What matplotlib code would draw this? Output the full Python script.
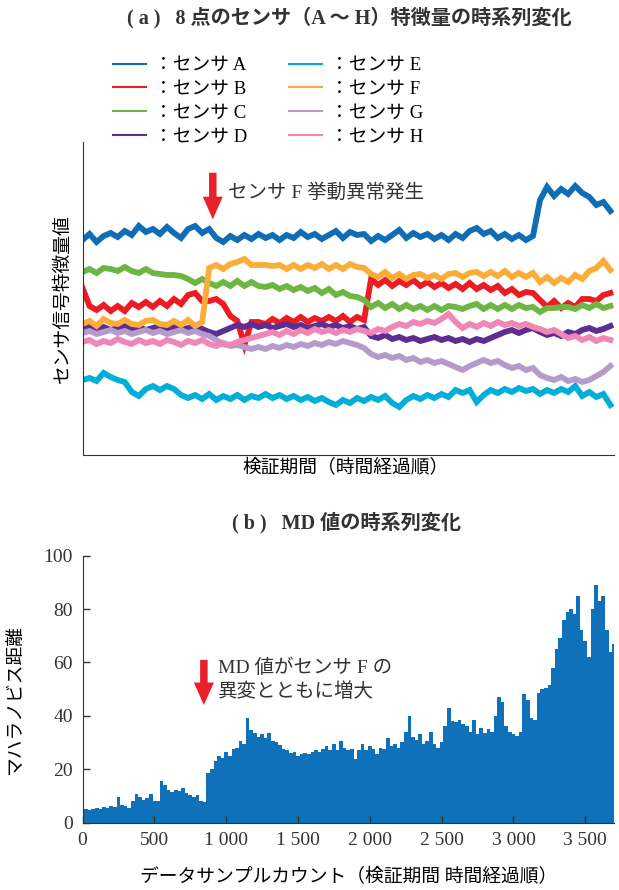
"""センサ特徴量 (a) と MD 値 (b) の時系列図。値は元図から目視で読み取り。"""

import numpy as np
import matplotlib
matplotlib.use("Agg")
import matplotlib.pyplot as plt
from matplotlib.ticker import FuncFormatter, MultipleLocator

FONTS = ["Liberation Serif", "Noto Sans CJK JP"]
plt.rcParams.update({"font.family": FONTS, "font.size": 13.5,
                     "axes.spines.top": False, "axes.spines.right": False})

# ── (a) センサ特徴量: 約 49 サンプル間隔で読み取り (縦は任意単位) ──
SAMPLE = np.linspace(0, 3675, 76)
SENSORS = ["A", "B", "C", "D", "E", "F", "G", "H"]
COLORS = ["#0f6db6", "#ec1c24", "#6db644", "#5e2d91",
          "#00aeda", "#fbad3a", "#b49bcb", "#ef86b5"]
SENS_A = [215, 221, 213, 219, 222, 218, 224, 220, 229, 223,
          226, 221, 228, 222, 217, 226, 229, 222, 226, 217,
          213, 219, 215, 220, 216, 221, 217, 220, 215, 220,
          217, 223, 218, 221, 216, 220, 224, 217, 223, 220,
          221, 214, 219, 215, 220, 225, 217, 222, 218, 221,
          216, 220, 215, 221, 217, 224, 227, 221, 224, 217,
          221, 216, 220, 215, 219, 255, 268, 259, 266, 261,
          269, 262, 258, 250, 253, 244]
SENS_B = [167, 149, 145, 150, 144, 149, 144, 152, 148, 153,
          148, 154, 149, 156, 151, 160, 162, 154, 154, 156,
          151, 139, 134, 110, 133, 133, 131, 136, 132, 137,
          133, 138, 133, 137, 134, 138, 134, 139, 133, 138,
          135, 176, 170, 175, 169, 174, 170, 175, 169, 173,
          168, 172, 167, 171, 166, 172, 166, 170, 165, 169,
          162, 166, 160, 163, 162, 155, 148, 154, 147, 152,
          148, 156, 156, 154, 160, 162]
SENS_C = [183, 186, 182, 187, 186, 184, 188, 184, 182, 186,
          182, 181, 180, 180, 179, 176, 172, 176, 172, 169,
          173, 169, 174, 169, 173, 169, 168, 170, 166, 169,
          165, 168, 164, 167, 162, 166, 160, 163, 159, 158,
          155, 148, 152, 147, 151, 146, 150, 146, 149, 145,
          149, 145, 149, 148, 146, 149, 151, 146, 150, 146,
          150, 146, 150, 147, 148, 143, 147, 147, 148, 148,
          146, 150, 147, 151, 147, 149]
SENS_D = [127, 129, 126, 128, 125, 127, 129, 126, 128, 125,
          127, 129, 126, 128, 125, 127, 129, 126, 123, 121,
          124, 127, 130, 128, 131, 128, 130, 127, 129, 131,
          128, 130, 127, 129, 131, 128, 130, 127, 129, 126,
          128, 119, 117, 120, 116, 118, 115, 117, 114, 116,
          118, 115, 117, 114, 116, 113, 116, 114, 117, 120,
          123, 125, 122, 125, 127, 123, 120, 122, 119, 123,
          121, 125, 127, 124, 126, 129]
SENS_E = [75, 77, 74, 82, 78, 75, 73, 63, 59, 66,
          69, 65, 69, 66, 60, 57, 60, 56, 61, 55,
          59, 56, 60, 55, 59, 57, 61, 57, 60, 56,
          59, 55, 58, 54, 57, 53, 50, 55, 52, 57,
          54, 58, 55, 59, 52, 48, 55, 59, 56, 60,
          57, 61, 58, 65, 62, 65, 53, 60, 65, 62,
          66, 63, 67, 64, 66, 61, 65, 62, 66, 63,
          69, 59, 63, 58, 61, 50]
SENS_F = [131, 134, 129, 136, 132, 131, 135, 131, 130, 134,
          135, 131, 130, 134, 130, 135, 129, 133, 187, 190,
          186, 191, 193, 196, 190, 190, 190, 189, 190, 186,
          190, 186, 190, 187, 191, 186, 190, 186, 191, 188,
          187, 181, 178, 183, 177, 181, 176, 180, 181, 177,
          180, 176, 181, 182, 178, 182, 183, 179, 183, 179,
          184, 178, 182, 178, 182, 173, 178, 172, 177, 173,
          180, 176, 184, 187, 194, 185]
SENS_G = [122, 124, 121, 123, 125, 122, 124, 121, 123, 125,
          122, 124, 121, 123, 125, 122, 124, 121, 119, 115,
          111, 109, 110, 108, 106, 108, 106, 109, 107, 110,
          108, 111, 109, 112, 110, 113, 111, 114, 112, 110,
          107, 101, 98, 100, 97, 99, 95, 97, 93, 95,
          92, 94, 91, 88, 85, 89, 92, 95, 92, 94,
          90, 87, 89, 85, 87, 80, 77, 75, 78, 74,
          76, 73, 75, 79, 83, 89]
SENS_H = [113, 115, 111, 114, 112, 116, 113, 111, 115, 112,
          114, 111, 115, 113, 110, 114, 112, 115, 111, 109,
          112, 110, 113, 115, 117, 119, 121, 123, 120, 124,
          121, 125, 122, 126, 123, 125, 122, 125, 123, 126,
          124, 122, 126, 124, 128, 131, 129, 133, 131, 134,
          132, 136, 141, 133, 127, 131, 128, 132, 129, 133,
          130, 132, 129, 131, 128, 126, 123, 125, 121, 117,
          119, 115, 118, 114, 117, 115]
SERIES = [SENS_A, SENS_B, SENS_C, SENS_D, SENS_E, SENS_F, SENS_G, SENS_H]

# ── (b) MD 値: 25 サンプル間隔 ──
MD_SAMPLE = np.arange(0, 3701, 25)
MD = [4.5, 5.0, 4.6, 5.2, 5.6, 5.0, 5.8, 5.4, 6.2, 5.8,
      9.5, 6.5, 6.0, 5.6, 8.0, 10.8, 9.5, 8.6, 9.0, 10.8,
      8.2, 8.0, 15.5, 14.0, 12.0, 11.5, 12.2, 11.8, 12.8, 11.0,
      10.2, 9.6, 10.4, 8.0, 7.6, 18.5, 20.0, 23.0, 25.0, 24.0,
      26.5, 25.0, 27.5, 28.0, 30.5, 29.5, 39.0, 34.5, 33.5, 32.0,
      33.0, 31.5, 33.5, 30.5, 30.0, 29.0, 27.5, 27.0, 26.0, 26.5,
      25.0, 25.5, 26.0, 25.5, 26.5, 27.0, 26.5, 27.5, 28.5, 27.0,
      29.5, 27.0, 30.5, 28.0, 27.0, 27.5, 23.8, 27.0, 29.5, 27.0,
      28.5, 27.5, 25.6, 28.0, 27.5, 31.5, 28.5, 29.4, 28.0, 30.0,
      34.0, 40.0, 32.0, 31.0, 33.0, 29.5, 30.5, 33.8, 29.4, 28.0,
      30.0, 36.0, 43.0, 38.0, 37.5, 38.5, 37.0, 36.0, 34.0, 38.5,
      33.0, 35.5, 33.5, 35.0, 34.0, 40.0, 47.0, 45.0, 36.0, 34.0,
      33.0, 32.5, 34.0, 48.0, 46.0, 39.0, 38.5, 48.5, 50.0, 50.5,
      51.5, 58.0, 65.0, 69.0, 76.0, 79.0, 80.0, 78.0, 85.0, 72.0,
      68.0, 62.0, 80.0, 89.0, 83.0, 85.0, 72.0, 64.0, 67.0]

RED = "#e8202a"
INK = "#333333"
W, H = 619, 890
ARROW = "simple,head_length=0.9,head_width=0.8,tail_width=0.3"

fig = plt.figure(figsize=(W / 100, H / 100), dpi=100)


def box(x0, y_top, x1, y_bot):
    return [x0 / W, 1 - y_bot / H, (x1 - x0) / W, (y_bot - y_top) / H]


# ── (a) ──
ax1 = fig.add_axes(box(82.5, 142, 614, 455))
for name, vals, col in zip(SENSORS, SERIES, COLORS):
    ax1.plot(SAMPLE, vals, color=col, lw=4.2, solid_joinstyle="miter")
ax1.set_xlim(0, 3700)
ax1.set_ylim(0, 313)
ax1.set_xticks([])
ax1.set_yticks([])
for s in ("left", "bottom"):
    ax1.spines[s].set_color(INK)
ax1.set_ylabel("センサ信号特徴量値")
ax1.yaxis.set_label_coords(-0.021, 0.5)
ax1.set_xlabel("検証期間（時間経過順）")
ax1.xaxis.set_label_coords(0.494, -0.012)
ax1.annotate("", xy=(907, 233), xytext=(907, 285),
             arrowprops=dict(arrowstyle=ARROW, mutation_scale=18, color=RED, lw=0))
ax1.text(1012, 263, "センサ F 挙動異常発生", color=INK, va="center", ha="left",
         fontsize=14)

fig.text(0.564, 1 - 18 / H, "( a )   8 点のセンサ（A ～ H）特徴量の時系列変化",
         ha="center", va="center", fontweight="bold", color=INK, fontsize=14.5)
legend_lines = [plt.Line2D([], [], color=c, lw=1.5) for c in COLORS]
fig.legend(legend_lines, [f"：センサ {n}" for n in SENSORS], loc="upper left",
           bbox_to_anchor=(113 / W, 1 - 57 / H), ncol=2, frameon=False, borderpad=0,
           borderaxespad=0, handlelength=1.75, handletextpad=0.45, columnspacing=2.2,
           labelspacing=0.36, fontsize=13.5)

# ── (b) ──
ax2 = fig.add_axes(box(82.5, 555.8, 614, 822.5))
ax2.bar(MD_SAMPLE, MD, width=25, color="#0f71b9", linewidth=0)
ax2.set_xlim(0, 3700)
ax2.set_ylim(0, 100)
ax2.xaxis.set_major_locator(MultipleLocator(500))
ax2.yaxis.set_major_locator(MultipleLocator(20))
ax2.xaxis.set_major_formatter(FuncFormatter(lambda v, p: f"{int(v):,}".replace(",", " ")))
ax2.tick_params(direction="in", length=5, width=1, colors=INK, labelsize=14, pad=7)
for s in ("left", "bottom"):
    ax2.spines[s].set_color(INK)
ax2.set_ylabel("マハラノビス距離")
ax2.yaxis.set_label_coords(-0.11, 0.46)
ax2.set_xlabel("データサンプルカウント（検証期間 時間経過順）")
ax2.xaxis.set_label_coords(0.5, -0.172)
ax2.annotate("", xy=(845, 43), xytext=(845, 62),
             arrowprops=dict(arrowstyle=ARROW, mutation_scale=18, color=RED, lw=0))
ax2.text(942, 53.5, "MD 値がセンサ F の\n異変とともに増大", color=INK, va="center",
         ha="left", linespacing=1.35, fontsize=14)

fig.text(346 / W, 1 - 523 / H, "( b )   MD 値の時系列変化", ha="center", va="center",
         fontweight="bold", color=INK, fontsize=14.5)

fig.savefig("out.png", dpi=100)
